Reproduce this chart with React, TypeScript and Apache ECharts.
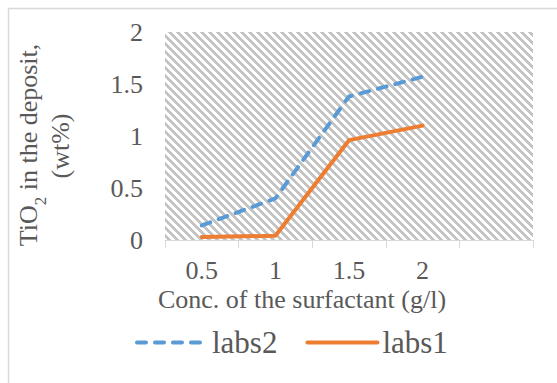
import React, { useEffect, useRef } from "react";
import * as echarts from "echarts";

const categories = ["0.5", "1", "1.5", "2", ""];
const labs2 = [0.14, 0.4, 1.38, 1.57];
const labs1 = [0.03, 0.04, 0.96, 1.1];
const yMin = 0;
const yMax = 2;
const yStep = 0.5;

const FONT = "'Liberation Serif', 'Times New Roman', serif";
const TEXT = "#595959";

function makeHatch(): string {
  const size = 8;
  const c = document.createElement("canvas");
  c.width = size;
  c.height = size;
  const ctx = c.getContext("2d")!;
  ctx.fillStyle = "#ffffff";
  ctx.fillRect(0, 0, size, size);
  ctx.fillStyle = "#c4c4c4";
  for (let y = 0; y < size; y++) {
    for (let x = 0; x < size; x++) {
      const d = (((x - y) % size) + size) % size;
      if (d < 4) ctx.fillRect(x, y, 1, 1);
    }
  }
  return c.toDataURL();
}

export default function App() {
  const ref = useRef<HTMLDivElement>(null);
  useEffect(() => {
    if (!ref.current) return;
    const chart = echarts.init(ref.current, undefined, { renderer: "svg" });
    const hatch = makeHatch();
    chart.setOption({
      animation: false,
      backgroundColor: "#ffffff",
      grid: {
        left: 165,
        right: 24,
        top: 32,
        bottom: 143,
        show: true,
        borderWidth: 0,
        backgroundColor: { image: hatch, repeat: "repeat", imageWidth: 8, imageHeight: 8 },
      },
      xAxis: {
        type: "category",
        data: categories,
        boundaryGap: true,
        axisLine: { show: true, lineStyle: { color: "#d9d9d9", width: 1 } },
        axisTick: { show: true, length: 8, lineStyle: { color: "#d9d9d9" } },
        axisLabel: { color: TEXT, fontFamily: FONT, fontSize: 26, lineHeight: 20, margin: 20 },
        splitLine: { show: false },
      },
      yAxis: {
        type: "value",
        min: yMin,
        max: yMax,
        interval: yStep,
        axisLine: { show: false },
        axisTick: { show: false },
        splitLine: { show: false },
        axisLabel: { color: TEXT, fontFamily: FONT, fontSize: 26, margin: 22 },
      },
      legend: {
        left: 130,
        top: 322,
        itemWidth: 70,
        itemHeight: 14,
        itemGap: 28,
        textStyle: { color: TEXT, fontFamily: FONT, fontSize: 31 },
        itemStyle: { opacity: 0 },
        lineStyle: { width: 4, cap: "round" },
        data: ["labs2", "labs1"],
      },
      series: [
        {
          name: "labs2",
          type: "line",
          data: labs2,
          symbol: "none",
          lineStyle: { color: "#5B9BD5", width: 4, type: [9, 9], cap: "round" },
          itemStyle: { color: "#5B9BD5" },
        },
        {
          name: "labs1",
          type: "line",
          data: labs1,
          symbol: "none",
          lineStyle: { color: "#ED7D31", width: 4, cap: "round" },
          itemStyle: { color: "#ED7D31" },
        },
      ],
      graphic: [
        {
          type: "rect",
          shape: { x: 8.5, y: 8.5, width: 700, height: 500 },
          style: { fill: "none", stroke: "#d9d9d9", lineWidth: 1.5 },
          silent: true,
        },
        {
          type: "text",
          x: 302,
          y: 299,
          style: {
            text: "Conc. of the surfactant (g/l)",
            fill: TEXT,
            font: `26px ${FONT}`,
            lineHeight: 20,
            align: "center",
            verticalAlign: "middle",
            textAlign: "center",
            textVerticalAlign: "middle",
          },
        },
        {
          type: "text",
          x: 32,
          y: 145,
          rotation: Math.PI / 2,
          style: {
            text: "{a|TiO}{s|2}{a| in the deposit,}",
            align: "center",
            verticalAlign: "middle",
            textAlign: "center",
            textVerticalAlign: "middle",
            rich: {
              a: { fill: TEXT, color: TEXT, fontFamily: FONT, fontSize: 26, lineHeight: 34, verticalAlign: "top" },
              s: { fill: TEXT, color: TEXT, fontFamily: FONT, fontSize: 17, lineHeight: 18, verticalAlign: "bottom" },
            },
          },
        },
        {
          type: "text",
          x: 60,
          y: 146,
          rotation: Math.PI / 2,
          style: {
            text: "(wt%)",
            fill: TEXT,
            font: `26px ${FONT}`,
            align: "center",
            verticalAlign: "middle",
            textAlign: "center",
            textVerticalAlign: "middle",
          },
        },
      ],
    });
    return () => chart.dispose();
  }, []);
  return (
    <div
      ref={ref}
      style={{ position: "fixed", left: 0, top: 0, width: 557, height: 383 }}
    />
  );
}
